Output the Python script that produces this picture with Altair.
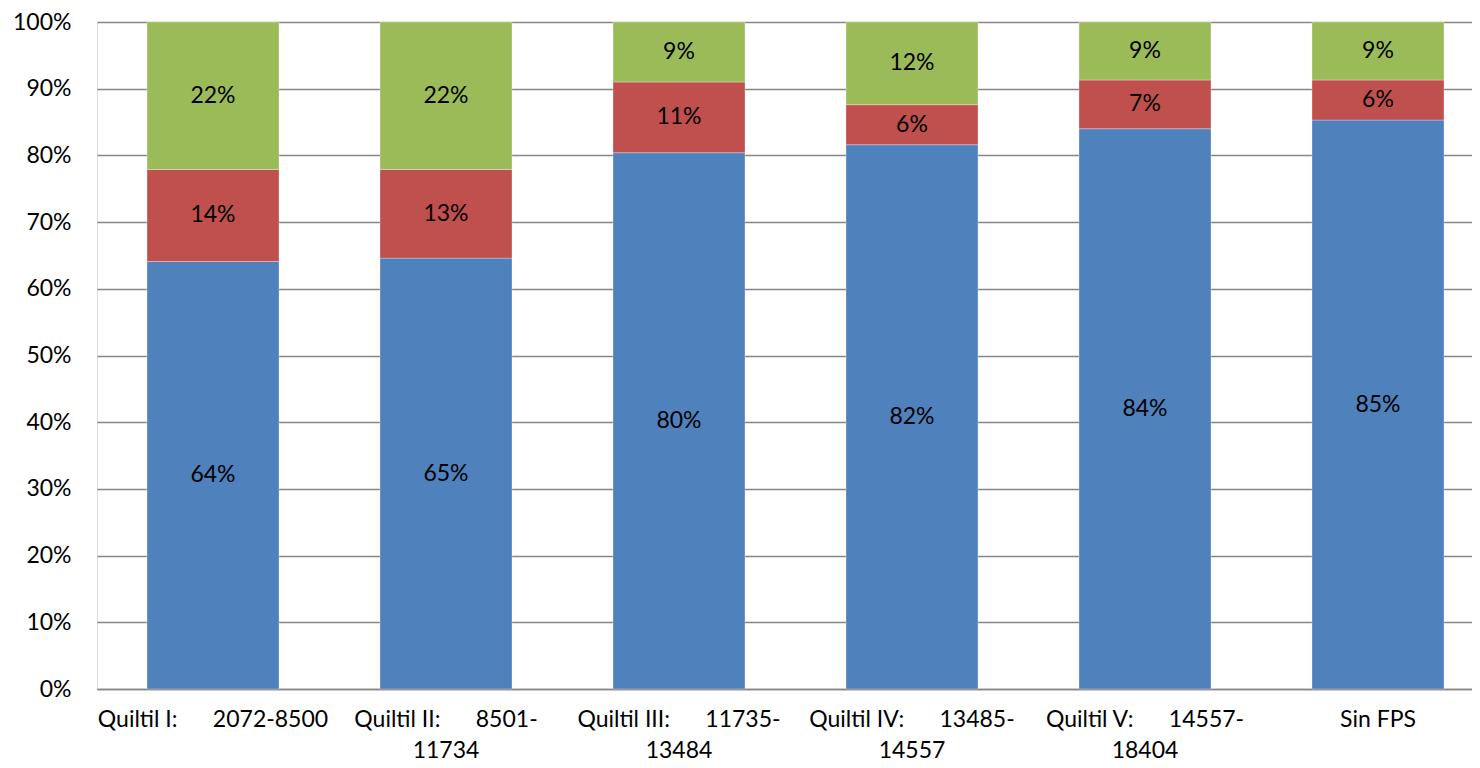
import altair as alt
import pandas as pd

NB = "\u00a0"

categories = [
    "Quiltil I: 2072-8500",
    "Quiltil II: 8501-11734",
    "Quiltil III: 11735-13484",
    "Quiltil IV: 13485-14557",
    "Quiltil V: 14557-18404",
    "Sin FPS",
]
axis_labels = [
    "Quiltil I:" + NB * 6 + "2072-8500",
    "Quiltil II:" + NB * 6 + "8501-|11734",
    "Quiltil III:" + NB * 6 + "11735-|13484",
    "Quiltil IV:" + NB * 6 + "13485-|14557",
    "Quiltil V:" + NB * 6 + "14557-|18404",
    "Sin FPS",
]
series = ["Serie 1", "Serie 2", "Serie 3"]
serie1 = [64.1, 64.6, 80.4, 81.6, 84.0, 85.3]
serie2 = [13.8, 13.3, 10.6, 6.0, 7.3, 6.0]
serie3 = [22.1, 22.1, 9.0, 12.4, 8.7, 8.7]
colors = ["#4F81BD", "#C0504D", "#9BBB59"]

rows = []
for i, c in enumerate(categories):
    for k, (s, vals) in enumerate(zip(series, [serie1, serie2, serie3])):
        rows.append({"cat": c, "serie": s, "ord": k, "value": vals[i]})
df = pd.DataFrame(rows)

FONT = "Lato"
label_map = "{" + ",".join(f"'{c}':'{l}'" for c, l in zip(categories, axis_labels)) + "}"

base = alt.Chart(df).transform_stack(
    stack="value", groupby=["cat"], sort=[alt.SortField("ord")], as_=["v0", "v1"]
).transform_calculate(
    mid="(datum.v0 + datum.v1) / 2",
    txt="format(datum.value / 100, '.0%')",
)

xenc = alt.X(
    "cat:N",
    sort=categories,
    title=None,
    scale=alt.Scale(paddingInner=0.4335, paddingOuter=0.1674, align=0.641),
    axis=alt.Axis(
        labelAngle=0,
        labelExpr=f"split({label_map}[datum.label], '|')",
        labelFont=FONT,
        labelFontSize=23,
        labelColor="#000000",
        labelLineHeight=31,
        labelBaseline="top",
        labelPadding=19,
        labelLimit=400,
        ticks=False,
        domain=True,
        domainColor="#868686",
        domainWidth=1.3,
        grid=False,
    ),
)

bars = base.mark_bar(stroke="#ffffff", strokeWidth=0.5, strokeOpacity=0.6).encode(
    x=xenc,
    y=alt.Y(
        "v0:Q",
        title=None,
        scale=alt.Scale(domain=[0, 100], nice=False),
        axis=alt.Axis(
            values=list(range(0, 101, 10)),
            labelExpr="datum.value + '%'",
            labelFont=FONT,
            labelFontSize=23,
            labelColor="#000000",
            labelPadding=26,
            ticks=False,
            domain=False,
            grid=True,
            gridColor="#868686",
            gridWidth=1.3,
        ),
    ),
    y2="v1:Q",
    color=alt.Color("serie:N", scale=alt.Scale(domain=series, range=colors), legend=None),
)

labels = base.mark_text(font=FONT, fontSize=23, color="#000000", baseline="middle", align="center").encode(
    x=alt.X("cat:N", sort=categories),
    y=alt.Y("mid:Q"),
    text="txt:N",
)

chart = alt.layer(bars, labels).properties(
    width=1375,
    height=667,
    autosize=alt.AutoSizeParams(type="none"),
    padding={"left": 89, "top": 14, "right": 0, "bottom": 79},
).configure_view(stroke=None).configure(background="#ffffff")

chart.save("out.html", embed_options={"renderer": "svg", "actions": False})
